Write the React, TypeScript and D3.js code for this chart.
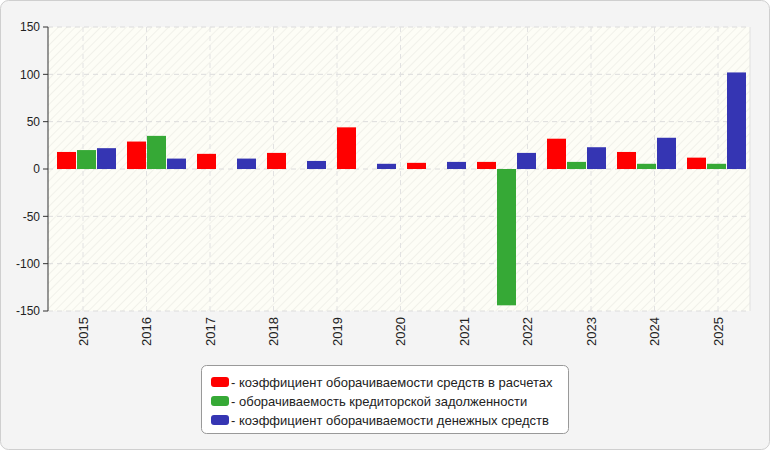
import React from "react";
import * as d3 from "d3";

const years = ["2015", "2016", "2017", "2018", "2019", "2020", "2021", "2022", "2023", "2024", "2025"];
const groups = ["g1", "g2", "g3", "g4", "g5", "g6", "g7", "g8", "g9", "g10"];
const seriesNames = [
  "коэффициент оборачиваемости средств в расчетах",
  "оборачиваемость кредиторской задолженности",
  "коэффициент оборачиваемости денежных средств",
];
const seriesColors = ["#ff0000", "#36a936", "#3535b3"];
const redValues = [18, 29, 16, 17, 44, 6.5, 7.5, 32, 18, 12];
const greenValues = [20, 35, 0, 0, 0, 0, -144, 7.5, 5.5, 5.5];
const blueValues = [22, 11, 11, 8.5, 5.5, 7.5, 17, 23, 33, 102];
const yTicks = [-150, -100, -50, 0, 50, 100, 150];

export default function App() {
  const W = 770, H = 450;
  const left = 48, right = 750, top = 27, bottom = 311;
  const y = d3.scaleLinear().domain([-150, 150]).range([bottom, top]);
  const xLabel = d3.scalePoint<string>().domain(years).range([83, 718]);
  const xGroup = d3.scaleBand<string>().domain(groups).range([57, 757]);
  const xSeries = d3.scaleBand<number>().domain([0, 1, 2]).range([0, 60]);
  const all = [redValues, greenValues, blueValues];

  return (
    <svg width={W} height={H} style={{ position: "absolute", left: 0, top: 0, fontFamily: "Arial, 'Liberation Sans', sans-serif" }}>
      <defs>
        <pattern id="hatch" width="6" height="6" patternUnits="userSpaceOnUse" patternTransform="rotate(45)">
          <rect width="6" height="6" fill="#fdfdf6" />
          <line x1="0" y1="0" x2="0" y2="6" stroke="#f1f1ea" strokeWidth="2" />
        </pattern>
      </defs>
      <rect x={0.5} y={0.5} width={W - 1} height={H - 1} rx={8} fill="#f4f4f4" stroke="#cfcfcf" />
      <rect x={left} y={top} width={right - left} height={bottom - top} fill="url(#hatch)" />
      {yTicks.map((t) => (
        <g key={t}>
          <line x1={left} x2={right} y1={y(t)} y2={y(t)} stroke="#dcdcdc" strokeDasharray="5,4" />
          <line x1={left - 5} x2={left} y1={y(t)} y2={y(t)} stroke="#333" />
          <text x={left - 8} y={y(t)} dy="0.35em" textAnchor="end" fontSize={12} fill="#222">{t}</text>
        </g>
      ))}
      {years.map((yr) => (
        <g key={yr}>
          <line x1={xLabel(yr)} x2={xLabel(yr)} y1={top} y2={bottom} stroke="#e2e2e2" strokeDasharray="5,4" />
          <text transform={`translate(${xLabel(yr)! + 4.5},${bottom + 6}) rotate(-90)`} textAnchor="end" fontSize={13} fill="#222">{yr}</text>
        </g>
      ))}
      {groups.map((g, gi) =>
        all.map((vals, si) => {
          const v = vals[gi];
          if (!v) return null;
          return (
            <rect key={g + si} x={xGroup(g)! + xSeries(si)!} width={19}
              y={y(Math.max(0, v))} height={Math.abs(y(v) - y(0))} fill={seriesColors[si]} />
          );
        })
      )}
      <line x1={left} x2={left} y1={top} y2={bottom} stroke="#333" />
      <line x1={right} x2={right} y1={top} y2={bottom} stroke="#e0e0e0" />
      <g transform="translate(201,365)">
        <rect x={0.5} y={0.5} width={367} height={68} rx={5} fill="#fff" stroke="#999" />
        {seriesNames.map((n, i) => (
          <g key={n} transform={`translate(10,${12 + i * 19})`}>
            <rect width={18} height={10} rx={3} fill={seriesColors[i]} />
            <text x={20} y={5} dy="0.35em" fontSize={13} fill="#222">- {n}</text>
          </g>
        ))}
      </g>
    </svg>
  );
}
